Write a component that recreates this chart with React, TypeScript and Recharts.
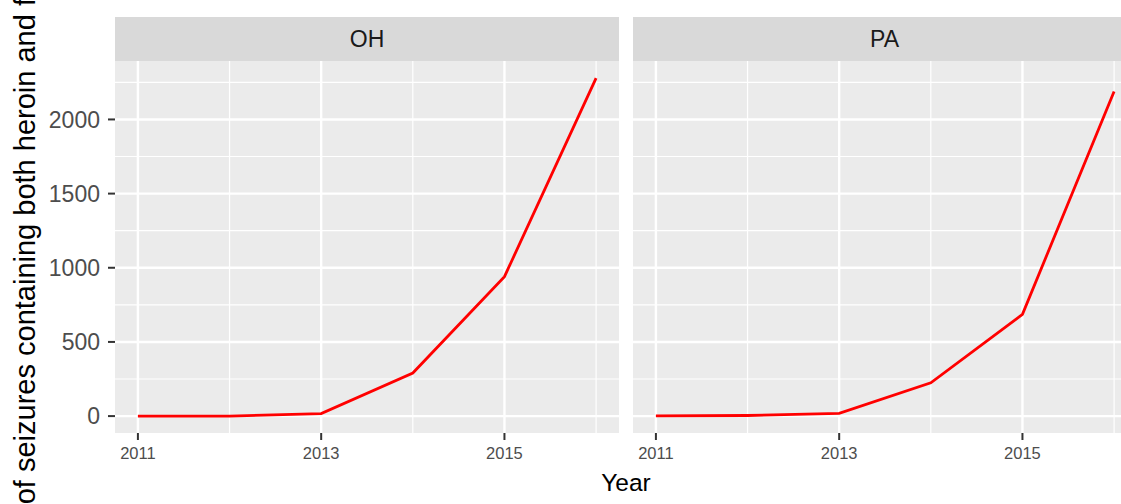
import { LineChart, Line, XAxis, YAxis, CartesianGrid, ReferenceLine } from 'recharts';

const years = [2011, 2012, 2013, 2014, 2015, 2016];
const ohSeizures = [0, 0, 17, 290, 940, 2278];
const paSeizures = [1, 4, 18, 224, 686, 2188];
const states = ['OH', 'PA'];
const xTicks = [2011, 2013, 2015];
const xMinor = [2012, 2014, 2016];
const yTicks = [0, 500, 1000, 1500, 2000];
const yMinor = [250, 750, 1250, 1750, 2250];
const xDomain = [2010.75, 2016.25];
const yDomain = [-114, 2394];

const FONT = '"Liberation Sans", Arial, Helvetica, sans-serif';
const PANEL_W = 504;
const AXIS_W = 115;

function Panel({ values, label, left, showY }: { values: number[]; label: string; left: number; showY: boolean }) {
  const data = years.map((year, i) => ({ year, count: values[i] }));
  const width = PANEL_W + (showY ? AXIS_W : 0);
  return (
    <div style={{ position: 'absolute', left, top: 0, width, height: 504 }}>
      <LineChart width={width} height={504} data={data} margin={{ top: 61, right: 0, bottom: 0, left: 0 }}>
        <CartesianGrid fill="#EBEBEB" stroke="none" horizontal={false} vertical={false} />
        {yMinor.map((v) => (
          <ReferenceLine key={'ym' + v} y={v} stroke="#FFFFFF" strokeWidth={1.2} zIndex={-50} />
        ))}
        {xMinor.map((v) => (
          <ReferenceLine key={'xm' + v} x={v} stroke="#FFFFFF" strokeWidth={1.2} zIndex={-50} />
        ))}
        {yTicks.map((v) => (
          <ReferenceLine key={'y' + v} y={v} stroke="#FFFFFF" strokeWidth={2.4} zIndex={-50} />
        ))}
        {xTicks.map((v) => (
          <ReferenceLine key={'x' + v} x={v} stroke="#FFFFFF" strokeWidth={2.4} zIndex={-50} />
        ))}
        <XAxis
          dataKey="year"
          type="number"
          domain={xDomain}
          ticks={xTicks}
          height={71}
          axisLine={false}
          tickSize={7}
          tickMargin={7.5}
          tickLine={{ stroke: '#333333', strokeWidth: 2 }}
          tick={{ fontSize: 16.5, fill: '#4D4D4D', fontFamily: FONT }}
          allowDataOverflow
        />
        <YAxis
          hide={!showY}
          type="number"
          domain={yDomain}
          ticks={yTicks}
          width={AXIS_W}
          axisLine={false}
          tickSize={7}
          tickMargin={8}
          tickLine={{ stroke: '#333333', strokeWidth: 2 }}
          tick={{ fontSize: 23, fill: '#4D4D4D', fontFamily: FONT }}
          allowDataOverflow
        />
        <Line
          type="linear"
          dataKey="count"
          stroke="#FF0000"
          strokeWidth={2.8}
          dot={false}
          activeDot={false}
          isAnimationActive={false}
        />
      </LineChart>
      <div
        style={{
          position: 'absolute',
          left: showY ? AXIS_W : 0,
          top: 17,
          width: PANEL_W,
          height: 44,
          background: '#D9D9D9',
          display: 'flex',
          alignItems: 'center',
          justifyContent: 'center',
          fontFamily: FONT,
          fontSize: 23,
          color: '#1A1A1A',
        }}
      >
        {label}
      </div>
    </div>
  );
}

export default function App() {
  return (
    <div
      style={{
        position: 'fixed',
        left: 0,
        top: 0,
        width: 1121,
        height: 504,
        overflow: 'hidden',
        background: '#FFFFFF',
      }}
    >
      <Panel values={ohSeizures} label={states[0]} left={0} showY />
      <Panel values={paSeizures} label={states[1]} left={632.5} showY={false} />
      <svg width={1121} height={504} style={{ position: 'absolute', left: 0, top: 0, pointerEvents: 'none' }}>
        <text
          x={0}
          y={0}
          transform="translate(35 260) rotate(-90)"
          textAnchor="middle"
          fontFamily={FONT}
          fontSize={29}
          fill="#000000"
        >
          Number of seizures containing both heroin and fentanyl
        </text>
        <text x={626} y={491} textAnchor="middle" fontFamily={FONT} fontSize={24.5} fill="#000000">
          Year
        </text>
      </svg>
    </div>
  );
}
